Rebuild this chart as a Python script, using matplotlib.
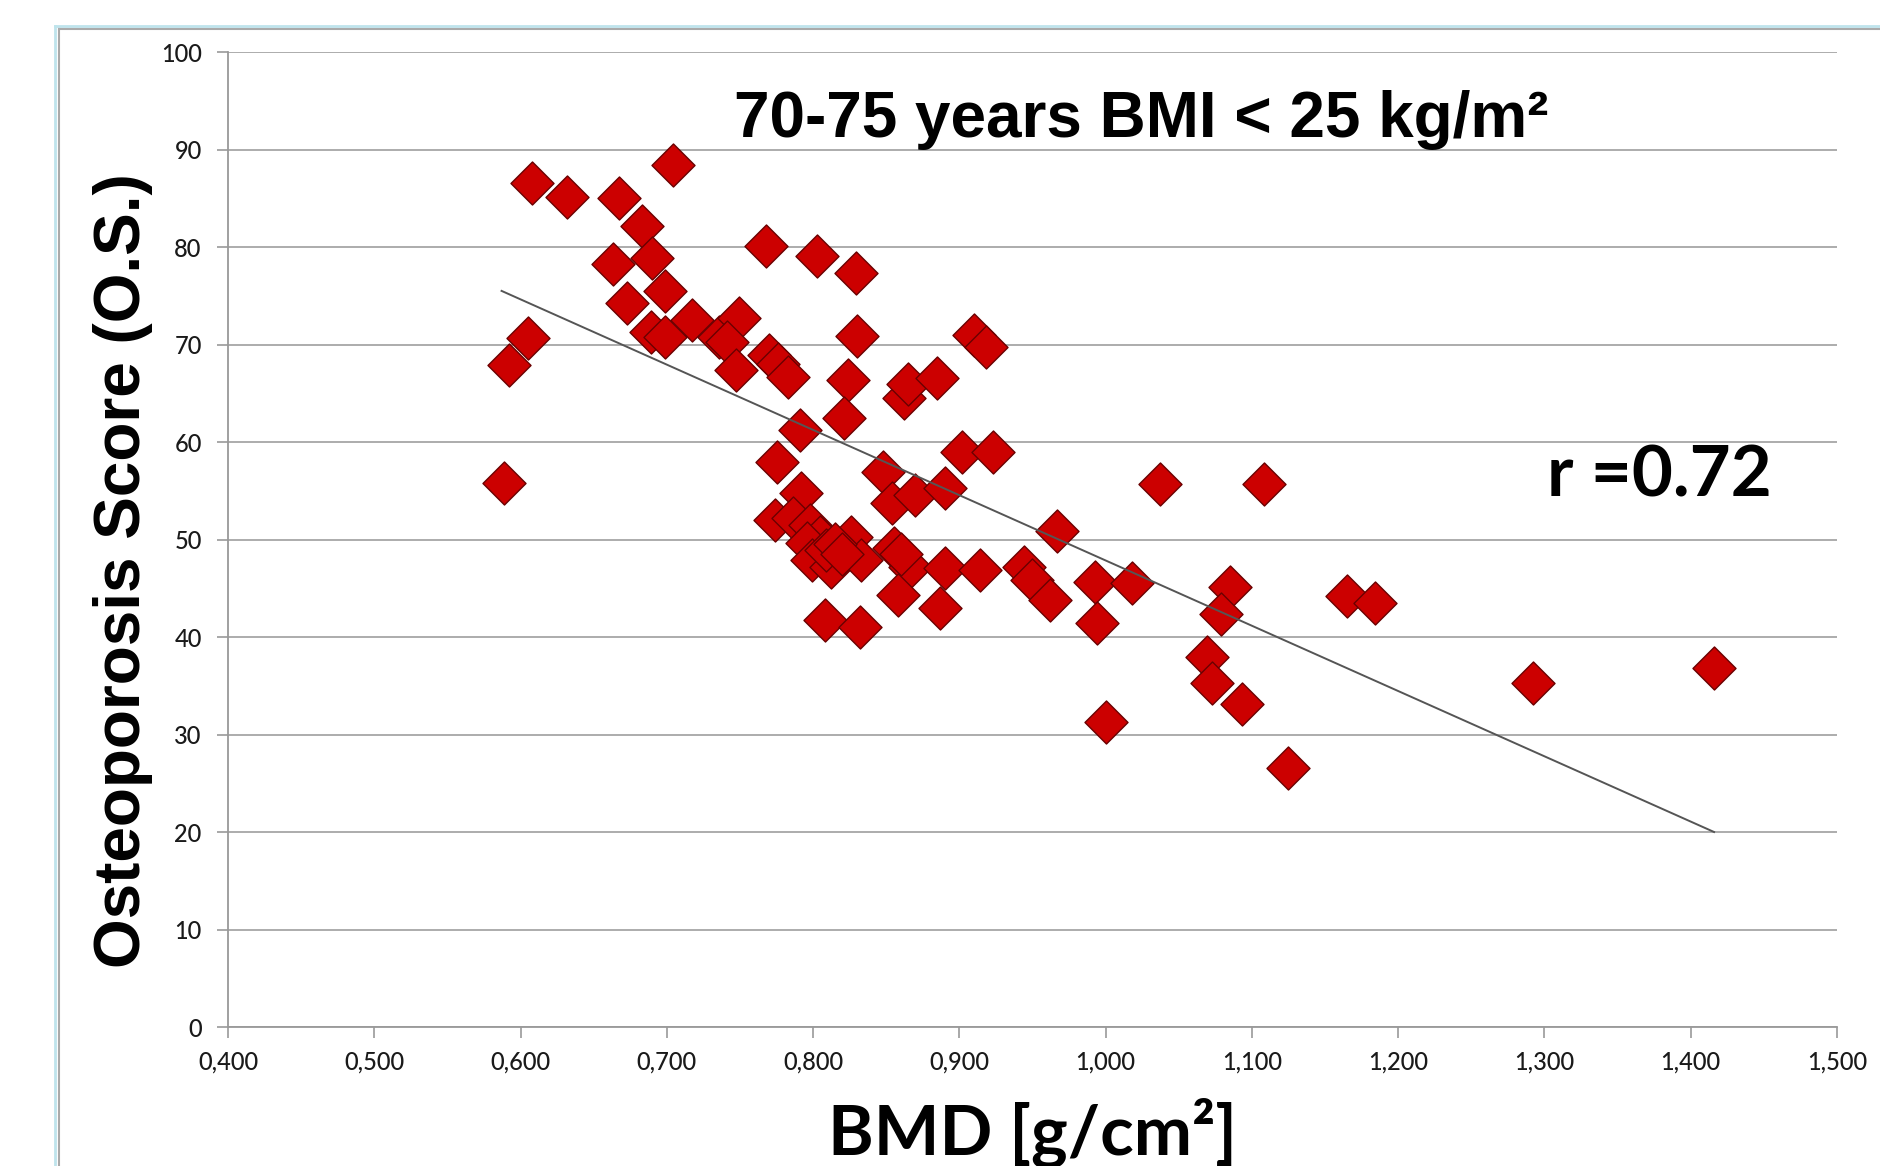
import matplotlib
matplotlib.use('Agg')
import matplotlib.pyplot as plt
from matplotlib.lines import Line2D

# BMD (g/cm2) and osteoporosis score
bmd = [0.589, 0.592, 0.605, 0.608, 0.632, 0.667, 0.683, 0.663, 0.690, 0.673,
       0.699, 0.689, 0.699, 0.704, 0.717, 0.736, 0.749, 0.741, 0.747, 0.768,
       0.770, 0.776, 0.783, 0.791, 0.775, 0.803, 0.829, 0.830, 0.824, 0.821,
       0.862, 0.865, 0.885, 0.910, 0.918, 0.902, 0.923,
       0.792, 0.774, 0.786, 0.798, 0.805, 0.796, 0.799, 0.812, 0.809, 0.826,
       0.833, 0.815, 0.820, 0.848, 0.854, 0.870, 0.890, 0.855, 0.866, 0.860,
       0.858, 0.890, 0.914, 0.887, 0.808, 0.832, 0.944, 0.950, 0.962, 0.967,
       0.993, 0.994, 1.000, 1.018, 1.037, 1.108, 1.085, 1.079, 1.069, 1.073,
       1.093, 1.125, 1.165, 1.184, 1.292, 1.416]
score = [55.8, 67.9, 70.7, 86.6, 85.1, 85.0, 82.2, 78.3, 78.9, 74.3,
         75.5, 71.3, 70.8, 88.4, 72.5, 70.8, 72.7, 70.3, 67.4, 80.1,
         68.9, 68.0, 66.7, 61.2, 57.9, 79.1, 77.3, 70.9, 66.4, 62.5,
         64.5, 66.0, 66.6, 71.0, 69.7, 59.0, 59.0,
         54.8, 52.0, 52.2, 51.5, 50.3, 49.6, 47.9, 47.2, 48.9, 50.3,
         47.9, 49.5, 48.5, 56.9, 53.7, 54.6, 55.3, 49.1, 47.2, 48.5,
         44.3, 47.1, 46.9, 43.0, 41.7, 41.0, 47.2, 45.8, 43.8, 50.9,
         45.6, 41.4, 31.3, 45.5, 55.7, 55.7, 45.1, 42.4, 38.0, 35.3,
         33.1, 26.6, 44.2, 43.5, 35.3, 36.8]

# trend line end points
fit_x = [0.587, 1.416]
fit_y = [75.5, 20.0]

x_ticks = [0.4, 0.5, 0.6, 0.7, 0.8, 0.9, 1.0, 1.1, 1.2, 1.3, 1.4, 1.5]
x_labels = ['0,400', '0,500', '0,600', '0,700', '0,800', '0,900',
            '1,000', '1,100', '1,200', '1,300', '1,400', '1,500']
y_ticks = [0, 10, 20, 30, 40, 50, 60, 70, 80, 90, 100]

fig = plt.figure(figsize=(18.8, 11.66), dpi=100)
ax = fig.add_axes([0.1213, 0.1192, 0.8558, 0.8362])

ax.set_axisbelow(True)
ax.grid(axis='y', color='#a6a6a6', lw=1.3)
ax.scatter(bmd, score, marker='D', s=480, color='#cc0000',
           edgecolors='#6a0000', linewidths=1.0, zorder=2)
ax.plot(fit_x, fit_y, color='#555555', lw=1.4, zorder=3)

ax.set_xlim(0.4, 1.5)
ax.set_ylim(0, 100)
ax.set_xticks(x_ticks)
ax.set_xticklabels(x_labels)
ax.set_yticks(y_ticks)
for s in ['top', 'right']:
    ax.spines[s].set_visible(False)
for s in ['left', 'bottom']:
    ax.spines[s].set_color('#999999')
    ax.spines[s].set_linewidth(1.3)
ax.tick_params(axis='both', colors='#999999', labelcolor='#1a1a1a',
               labelsize=17, length=8, width=1.2)
ax.tick_params(axis='x', pad=9)
ax.tick_params(axis='y', pad=11)
for lab in ax.get_xticklabels() + ax.get_yticklabels():
    lab.set_family('Lato')
    lab.set_weight('medium')

# titles and labels
fig.text(0.607, 0.897, '70-75 years BMI < 25 kg/m²', family='Liberation Sans',
         weight='bold', fontsize=46, ha='center', va='center')
fig.text(0.0654, 0.5103, 'Osteoporosis Score (O.S.)', family='Liberation Sans',
         weight='bold', fontsize=46, rotation=90, ha='center', va='center')
fig.text(0.549, 0.0095, 'BMD [g/cm²]', family='Lato', weight='bold', fontsize=50,
         ha='center', va='baseline')
fig.text(0.8229, 0.5738, 'r =0.72', family='Lato', weight='bold', fontsize=51,
         ha='left', va='baseline')

# slide frame
fig.add_artist(Line2D([0.0293, 1.0], [0.9777, 0.9777], color='#bfe4ec', lw=2))
fig.add_artist(Line2D([0.0314, 1.0], [0.9751, 0.9751], color='#aaaaaa', lw=1.5))
fig.add_artist(Line2D([0.0293, 0.0293], [0.0, 0.9777], color='#bfe4ec', lw=2))
fig.add_artist(Line2D([0.0314, 0.0314], [0.0, 0.9751], color='#aaaaaa', lw=1.5))

fig.savefig('out.png', dpi=100)
